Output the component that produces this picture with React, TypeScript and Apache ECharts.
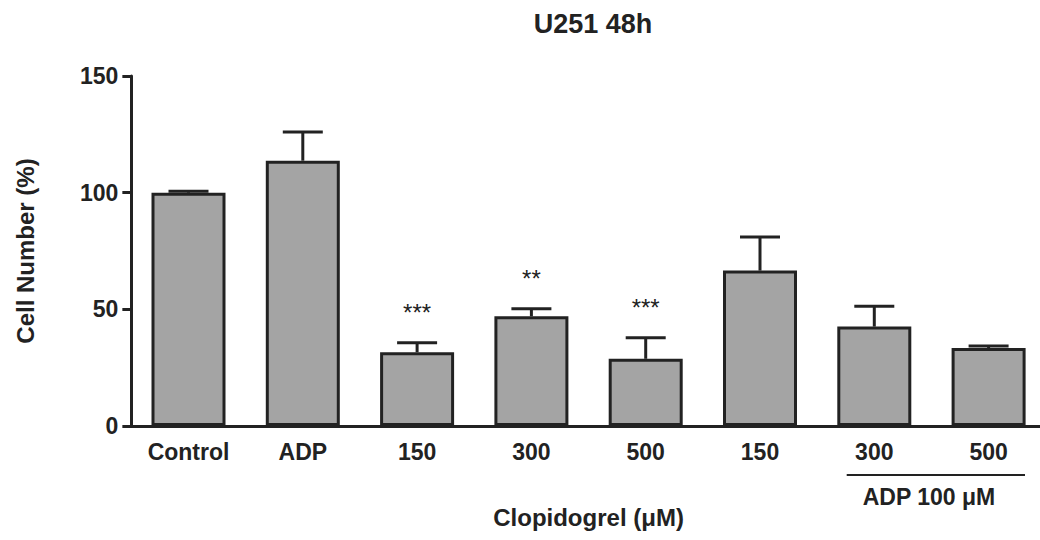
import React, { useEffect, useRef } from "react";
import * as echarts from "echarts";

const categories = ["Control", "ADP", "150", "300", "500", "150", "300", "500"];
const means = [100.0, 113.7, 31.6, 47.0, 28.8, 66.6, 42.6, 33.4];
const errors = [0.6, 12.3, 4.1, 3.3, 9.0, 14.4, 8.7, 0.9];
const stars = ["", "", "***", "**", "***", "", "", ""];
const yTicks = { min: 0, max: 150, interval: 50 };
const titleText = "U251 48h";
const yName = "Cell Number (%)";
const xName = "Clopidogrel (\u03bcM)";
const groupLabel = "ADP 100 \u03bcM";

const FONT = '"Liberation Sans", Arial, sans-serif';
const INK = "#222222";

export default function App() {
  const ref = useRef<HTMLDivElement>(null);
  useEffect(() => {
    if (!ref.current) return;
    const chart = echarts.init(ref.current, null, { renderer: "svg", width: 1050, height: 540 });
    const option: any = {
      animation: false,
      backgroundColor: "#ffffff",
      title: {
        text: titleText,
        left: 588,
        top: 5,
        textAlign: "center",
        textStyle: { fontFamily: FONT, fontSize: 27, fontWeight: "bold", color: INK },
      },
      grid: { left: 131.35, right: 4.25, top: 76, bottom: 114, containLabel: false },
      xAxis: {
        type: "category",
        data: categories,
        name: xName,
        nameLocation: "middle",
        nameGap: 79,
        nameTextStyle: { fontFamily: FONT, fontSize: 24, fontWeight: "bold", color: INK },
        axisLine: { lineStyle: { color: INK, width: 3 } },
        axisTick: { alignWithLabel: true, length: 10, lineStyle: { color: INK, width: 3 } },
        axisLabel: { interval: 0, fontFamily: FONT, fontSize: 23, fontWeight: "bold", color: INK, margin: 14 },
      },
      yAxis: {
        type: "value",
        min: yTicks.min,
        max: yTicks.max,
        interval: yTicks.interval,
        name: yName,
        nameLocation: "middle",
        nameGap: 94,
        nameTextStyle: { fontFamily: FONT, fontSize: 24, fontWeight: "bold", color: INK },
        axisLine: { show: true, lineStyle: { color: INK, width: 3 } },
        axisTick: { show: true, length: 9, lineStyle: { color: INK, width: 3 } },
        axisLabel: { fontFamily: FONT, fontSize: 23, fontWeight: "bold", color: INK, margin: 13 },
        splitLine: { show: false },
      },
      series: [
        {
          type: "bar",
          data: means,
          barWidth: 74,
          itemStyle: { color: "#a4a4a4", borderColor: INK, borderWidth: 3 },
          z: 2,
        },
        {
          type: "custom",
          z: 3,
          data: means.map((m, i) => [i, m, errors[i]]),
          encode: { x: 0, y: 1 },
          renderItem: (params: any, api: any) => {
            const i = api.value(0);
            const m = api.value(1);
            const e = api.value(2);
            const base = api.coord([i, m]);
            const top = api.coord([i, m + e]);
            const children: any[] = [
              { type: "line", shape: { x1: base[0], y1: base[1], x2: top[0], y2: top[1] }, style: { stroke: INK, lineWidth: 3 } },
              { type: "line", shape: { x1: top[0] - 20, y1: top[1], x2: top[0] + 20, y2: top[1] }, style: { stroke: INK, lineWidth: 3 } },
            ];
            if (stars[i]) {
              children.push({
                type: "text",
                x: top[0],
                y: top[1] - 30,
                style: { text: stars[i], fill: INK, fontFamily: FONT, fontSize: 24, fontWeight: "normal", align: "center", verticalAlign: "middle" },
              });
            }
            return { type: "group", children };
          },
        },
      ],
      graphic: [
        { type: "line", shape: { x1: 846.7, y1: 475, x2: 1025, y2: 475 }, style: { stroke: INK, lineWidth: 2 } },
        {
          type: "text",
          x: 929,
          y: 497,
          style: { text: groupLabel, fill: INK, fontFamily: FONT, fontSize: 23, fontWeight: "bold", align: "center", verticalAlign: "middle" },
        },
      ],
    };
    chart.setOption(option);
    return () => chart.dispose();
  }, []);
  return (
    <div style={{ position: "absolute", left: 0, top: 0, width: 1040, height: 540, overflow: "hidden", background: "#fff" }}>
      <div ref={ref} style={{ width: 1050, height: 540 }} />
    </div>
  );
}
